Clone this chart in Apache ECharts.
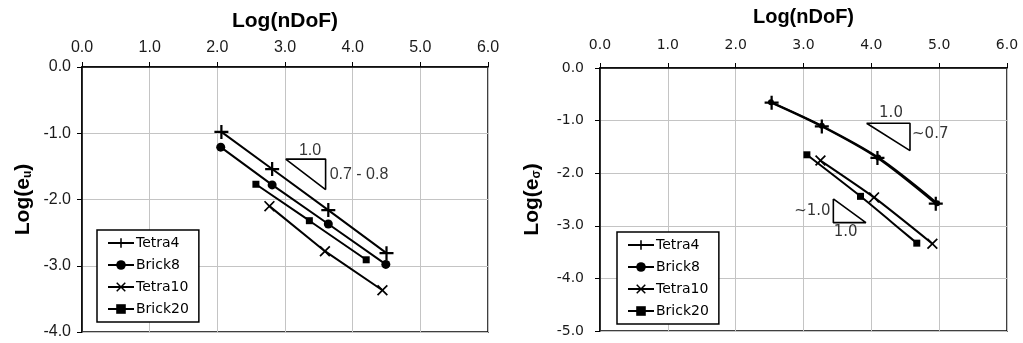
<!DOCTYPE html>
<html><head><meta charset="utf-8">
<script src="https://cdn.jsdelivr.net/npm/echarts@6/dist/echarts.min.js"></script>
<style>html,body{margin:0;padding:0;background:#fff}#c{width:1023px;height:343px}</style>
</head><body><div id="c"></div>
<script>
// ---- data ----
const seriesNames = ['Tetra4','Brick8','Tetra10','Brick20'];
const xTicks = [0,1,2,3,4,5,6];
// Left chart: Log(e_u) vs Log(nDoF)
const L_tetra4  = [[2.06,-0.98],[2.81,-1.54],[3.64,-2.16],[4.50,-2.81]];
const L_brick8  = [[2.05,-1.21],[2.81,-1.78],[3.64,-2.37],[4.49,-2.98]];
const L_tetra10 = [[2.77,-2.10],[3.59,-2.78],[4.44,-3.37]];
const L_brick20 = [[2.57,-1.77],[3.36,-2.32],[4.20,-2.91]];
const L_triangle = [[3.01,-1.39],[3.60,-1.39],[3.60,-1.85],[3.01,-1.39]];
const L_notes = [{t:'1.0',p:[3.37,-1.26],a:'center'},{t:'0.7 - 0.8',p:[3.66,-1.62],a:'left'}];
// Right chart: Log(e_sigma) vs Log(nDoF)
const R_tetra4  = [[2.53,-0.66],[3.27,-1.11],[4.09,-1.71],[4.95,-2.58]];
const R_brick8  = [[2.52,-0.65],[3.27,-1.10],[4.10,-1.70],[4.97,-2.57]];
const R_tetra10 = [[3.25,-1.76],[4.04,-2.46],[4.90,-3.34]];
const R_brick20 = [[3.05,-1.65],[3.84,-2.44],[4.67,-3.33]];
const R_triangle1 = [[3.93,-1.05],[4.57,-1.05],[4.57,-1.57],[3.93,-1.05]];
const R_triangle2 = [[3.44,-2.49],[3.44,-2.94],[3.92,-2.94],[3.44,-2.49]];
const R_notes = [{t:'1.0',p:[4.29,-0.86],a:'center'},{t:'~0.7',p:[4.60,-1.26],a:'left'},
                 {t:'~1.0',p:[3.40,-2.73],a:'right'},{t:'1.0',p:[3.62,-3.12],a:'center'}];

const plusPath = 'path://M4.2,0H5.8V4.2H10V5.8H5.8V10H4.2V5.8H0V4.2H4.2Z';
const crossPath = 'path://M1.1,0L5,3.9L8.9,0L10,1.1L6.1,5L10,8.9L8.9,10L5,6.1L1.1,10L0,8.9L3.9,5L0,1.1Z';
const sym = {Tetra4:[plusPath,14],Brick8:['circle',9],Tetra10:[crossPath,11],Brick20:['rect',7]};
const fontL = 'Liberation Sans';
const fontR = 'DejaVu Sans';

function dataSeries(name, data, gi, smooth, symOverride){
  const s = symOverride || sym[name];
  return {type:'line', name, data, xAxisIndex:gi, yAxisIndex:gi, smooth: smooth,
    symbol:s[0], symbolSize:s[1], showSymbol:true,
    lineStyle:{color:'#000',width:2}, itemStyle:{color:'#000'}, z:5, animation:false};
}
function triSeries(data, gi){
  return {type:'line', name:'tri'+gi+data[0][0], data, xAxisIndex:gi, yAxisIndex:gi, symbol:'none',
    lineStyle:{color:'#000',width:1.6}, animation:false, silent:true};
}
function noteSeries(notes, gi, fs, ff){
  return {type:'scatter', name:'notes'+gi, xAxisIndex:gi, yAxisIndex:gi, symbolSize:1,
    itemStyle:{color:'rgba(0,0,0,0)'}, animation:false, silent:true,
    data: notes.map(n=>({value:n.p, label:{show:true, position:'inside', formatter:n.t, align:n.a,
       color:'#000', fontSize:fs, fontFamily:ff}}))};
}
function xAx(gi, ff, fs, margin, gap, tfs){
  return {gridIndex:gi, type:'value', position:'top', min:0, max:6, interval:1,
    name:'Log(nDoF)', nameLocation:'middle', nameGap:gap,
    nameTextStyle:{fontFamily:'Liberation Sans', fontWeight:'bold', fontSize:tfs, color:'#000'},
    axisLine:{show:true, onZero:false, lineStyle:{color:'#000',width:1.5}},
    axisTick:{show:true, inside:false, length:5, lineStyle:{color:'#000'}},
    axisLabel:{formatter:v=>v.toFixed(1), fontFamily:ff, fontSize:fs, color:'#1a1a1a', margin:margin},
    splitLine:{show:true, lineStyle:{color:'#c4c4c4',width:1}}};
}
function yAx(gi, min, ff, fs, margin, gap, sub){
  return {gridIndex:gi, type:'value', min:min, max:0, interval:1,
    name:'Log(e{s|'+sub+'})', nameLocation:'middle', nameGap:gap, nameRotate:90,
    nameTextStyle:{fontFamily:'Liberation Sans', fontWeight:'bold', fontSize:21, color:'#000',
      rich:{s:{fontFamily:'Liberation Sans', fontWeight:'bold', fontSize:12, color:'#000', verticalAlign:'bottom', padding:[10,0,0,0]}}},
    axisLine:{show:true, onZero:false, lineStyle:{color:'#000',width:1.5}},
    axisTick:{show:true, inside:false, length:5, lineStyle:{color:'#000'}},
    axisLabel:{formatter:v=>v.toFixed(1), fontFamily:ff, fontSize:fs, color:'#1a1a1a', margin:margin},
    splitLine:{show:true, lineStyle:{color:'#c4c4c4',width:1}}};
}
function legend(left, top){
  return {left, top, orient:'vertical', data:seriesNames, backgroundColor:'#fff',
    borderColor:'#000', borderWidth:1.5, padding:[6,10,6,10], itemGap:8, itemWidth:26, itemHeight:12,
    textStyle:{fontFamily:'DejaVu Sans', fontSize:14, color:'#000', padding:[0,0,0,-3]}, selectedMode:false};
}

const chart = echarts.init(document.getElementById('c'), null, {renderer:'canvas'});
chart.setOption({
  backgroundColor:'#fff',
  animation:false,
  grid:[
    {left:82, top:67, width:406, height:265, show:true, borderColor:'#000', borderWidth:1.5, backgroundColor:'transparent', containLabel:false, outerBoundsMode:'none'},
    {left:600, top:68, width:407, height:263, show:true, borderColor:'#000', borderWidth:1.5, backgroundColor:'transparent', containLabel:false, outerBoundsMode:'none'}
  ],
  xAxis:[xAx(0,fontL,16,11,35,21), xAx(1,fontR,14,16,41,20)],
  yAxis:[yAx(0,-4,fontL,16,11,48,'u'), yAx(1,-5,fontR,14,16,57,'σ')],
  legend:[legend(97,230), legend(617,232)],
  series:[
    dataSeries('Tetra4',L_tetra4,0,false),
    dataSeries('Brick8',L_brick8,0,false),
    dataSeries('Tetra10',L_tetra10,0,false),
    dataSeries('Brick20',L_brick20,0,false),
    triSeries(L_triangle,0),
    noteSeries(L_notes,0,16,fontL),
    dataSeries('Tetra4',R_tetra4,1,0.3),
    dataSeries('Brick8',R_brick8,1,0.3,['circle',6]),
    dataSeries('Tetra10',R_tetra10,1,0.2),
    dataSeries('Brick20',R_brick20,1,0.2),
    triSeries(R_triangle1,1),
    triSeries(R_triangle2,1),
    noteSeries(R_notes,1,15,fontR)
  ]
});
</script></body></html>
